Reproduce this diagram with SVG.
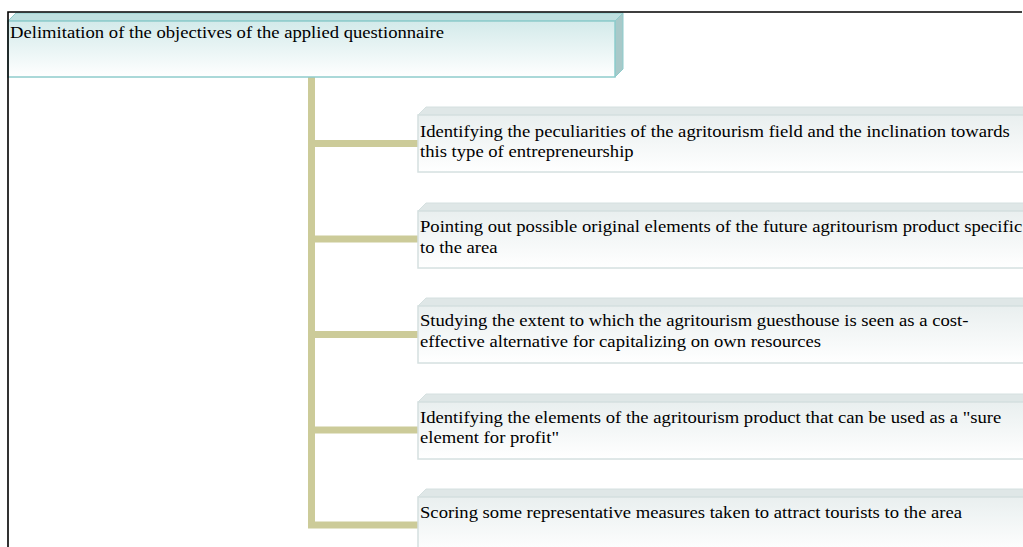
<svg xmlns="http://www.w3.org/2000/svg" width="1023" height="547" viewBox="0 0 1023 547">
<defs>
<linearGradient id="gRoot" x1="0" y1="0" x2="0" y2="1">
<stop offset="0" stop-color="#d3eaea"/>
<stop offset="1" stop-color="#ffffff"/>
</linearGradient>
<linearGradient id="gChild" x1="0" y1="0" x2="0" y2="1">
<stop offset="0" stop-color="#e9efef"/>
<stop offset="1" stop-color="#ffffff"/>
</linearGradient>
</defs>
<style>
text{font-family:"Liberation Serif","Times New Roman",serif;font-size:16px;fill:#000}
.rootFront{fill:url(#gRoot);stroke:#8ecccc;stroke-width:1.5}
.rootTop{fill:#bfe0e0;stroke:#8ecccc;stroke-width:1}
.rootSide{fill:#a8c9c9;stroke:#8ecccc;stroke-width:1}
.front{fill:url(#gChild);stroke:#d5e0e0;stroke-width:1.5}
.top{fill:#dfe7e7;stroke:#d5e0e0;stroke-width:1}
.conn{stroke:#cccb99;stroke-width:7;fill:none}
.frame{stroke:#000;stroke-width:1.6;fill:none}
</style>
<g id="connectors">
<path class="conn" d="M311.5 77 V525"/>
<path class="conn" d="M308 143.5 H418"/>
<path class="conn" d="M308 239 H418"/>
<path class="conn" d="M308 334.5 H418"/>
<path class="conn" d="M308 430 H418"/>
<path class="conn" d="M308 525 H418"/>
</g>
<g id="root">
<polygon class="rootTop" points="8,21 16,13 623,13 615,21"/>
<polygon class="rootSide" points="615,21 623,13 623,69 615,77"/>
<rect class="rootFront" x="8" y="21" width="607" height="56"/>
<g transform="translate(10,0) scale(1.165,1)"><text x="0" y="38.3">Delimitation of the objectives of the applied questionnaire</text></g>
</g>
<g id="node1">
<polygon class="top" points="418,115 426,107 1040,107 1040,115"/>
<rect class="front" x="418" y="115" width="622" height="57"/>
<g transform="translate(420,0) scale(1.165,1)">
<text x="0" y="137">Identifying the peculiarities of the agritourism field and the inclination towards</text>
<text x="0" y="157.5">this type of entrepreneurship</text>
</g>
</g>
<g id="node2">
<polygon class="top" points="418,211 426,203 1040,203 1040,211"/>
<rect class="front" x="418" y="211" width="622" height="57"/>
<g transform="translate(420,0) scale(1.165,1)">
<text x="0" y="232.5">Pointing out possible original elements of the future agritourism product specific</text>
<text x="0" y="253">to the area</text>
</g>
</g>
<g id="node3">
<polygon class="top" points="418,306 426,298 1040,298 1040,306"/>
<rect class="front" x="418" y="306" width="622" height="57"/>
<g transform="translate(420,0) scale(1.165,1)">
<text x="0" y="326.5">Studying the extent to which the agritourism guesthouse is seen as a cost-</text>
<text x="0" y="347">effective alternative for capitalizing on own resources</text>
</g>
</g>
<g id="node4">
<polygon class="top" points="418,402 426,394 1040,394 1040,402"/>
<rect class="front" x="418" y="402" width="622" height="57"/>
<g transform="translate(420,0) scale(1.165,1)">
<text x="0" y="423">Identifying the elements of the agritourism product that can be used as a "sure</text>
<text x="0" y="443.5">element for profit"</text>
</g>
</g>
<g id="node5">
<polygon class="top" points="418,497 426,489 1040,489 1040,497"/>
<rect class="front" x="418" y="497" width="622" height="57"/>
<g transform="translate(420,0) scale(1.165,1)">
<text x="0" y="518.5">Scoring some representative measures taken to attract tourists to the area</text>
</g>
</g>
<g id="frame">
<path class="frame" d="M8 547 V12 H1022"/>
</g>
</svg>
